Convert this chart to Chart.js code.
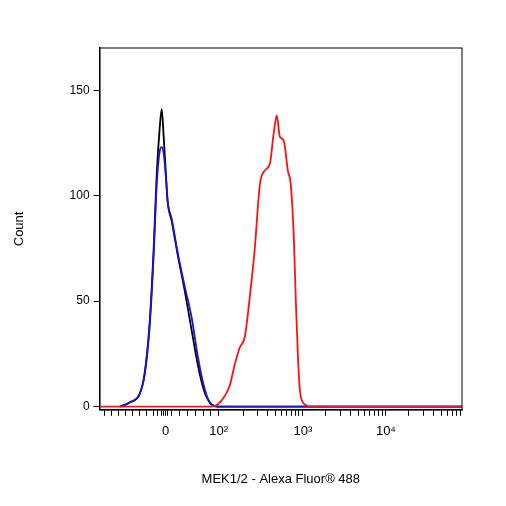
<!DOCTYPE html>
<html><head><meta charset="utf-8">
<script src="https://cdn.jsdelivr.net/npm/chart.js@4"></script>
<style>html,body{margin:0;background:#fff}#w{width:506px;height:506px}</style>
</head><body><div id="w"><canvas id="c"></canvas></div>
<script>
// x values are in display channel units (0..362), y in counts
const blackX=[20,30,40,45,50,54,57,60,62,64,66,68,72,78,85,92,98,104,110,118,362];
const blackY=[0,2,6,16,40,75,110,132,141,128,112,97,88,72,55,36,20,8,2,0,0];
const blueX=[22,30,40,45,50,54,57,60,62,64,66,68,72,78,85,92,98,104,110,118,362];
const blueY=[0,2,6,15,38,72,105,121,123,120,110,97,89,73,57,42,24,10,2,0,0];
const redX=[0,112,118,125,130,135,140,145,150,155,160,165,170,174,177,180,184,188,191,194,196,198,200,202,205,210,215,220,362];
const redY=[0,0,1,5,10,20,28,33,52,75,105,112,115,130,138,128,126,112,105,80,50,25,8,3,1,0,0,0,0];
const tickPos=[66,119,203,286];
const tickLab=['0','10²','10³','10⁴'];
const minor=[5,12,19,26,33,40,47,54,58,62,64,68,72,80,88,96,104,111,144,158,168,176,182,187,192,196,199,226,241,251,259,265,270,275,279,283,309,324,334,342,348,353,357,361];
const mk=(xs,ys)=>xs.map((x,i)=>({x,y:ys[i]}));
const ds=(d,c)=>({data:d,borderColor:c,borderWidth:1.8,pointRadius:0,cubicInterpolationMode:'monotone'});
new Chart(document.getElementById('c'),{
type:'line',
data:{datasets:[ds(mk(redX,redY),'#ff1010'),ds(mk(blueX,blueY),'#1515e0'),ds(mk(blackX,blackY),'#000')]},
options:{responsive:true,maintainAspectRatio:false,animation:false,
layout:{padding:{left:8,right:44,top:48,bottom:15}},
plugins:{legend:{display:false},tooltip:{enabled:false}},
scales:{
x:{type:'linear',min:0,max:362,
 afterBuildTicks:a=>{a.ticks=tickPos.concat(minor).map(v=>({value:v}));},
 ticks:{autoSkip:false,maxRotation:0,padding:8,color:'#000',font:{family:'Liberation Sans',size:13},
  callback:v=>{const i=tickPos.indexOf(v);return i>=0?tickLab[i]:'';}},
 grid:{display:true,drawOnChartArea:false,tickLength:6,color:'#000'},
 border:{color:'#000',width:1.5},
 title:{display:true,text:'MEK1/2 - Alexa Fluor® 488',color:'#000',font:{family:'Liberation Sans',size:13},padding:{top:24}}},
y:{min:-1.5,max:170,
 afterBuildTicks:a=>{a.ticks=[0,50,100,150].map(v=>({value:v}));},
 ticks:{color:'#000',font:{family:'Liberation Sans',size:12},padding:4},
 grid:{drawOnChartArea:false,tickLength:6,color:'#000'},
 border:{color:'#000',width:1.5},
 title:{display:true,text:'Count',color:'#000',font:{family:'Liberation Sans',size:13},padding:{bottom:38}}}
}},
plugins:[{id:'frame',afterDraw(c){const a=c.chartArea,x=c.ctx;x.save();x.strokeStyle='#000';x.lineWidth=1;x.strokeRect(a.left,a.top,a.width,a.height);x.restore();}}]
});
</script></body></html>
